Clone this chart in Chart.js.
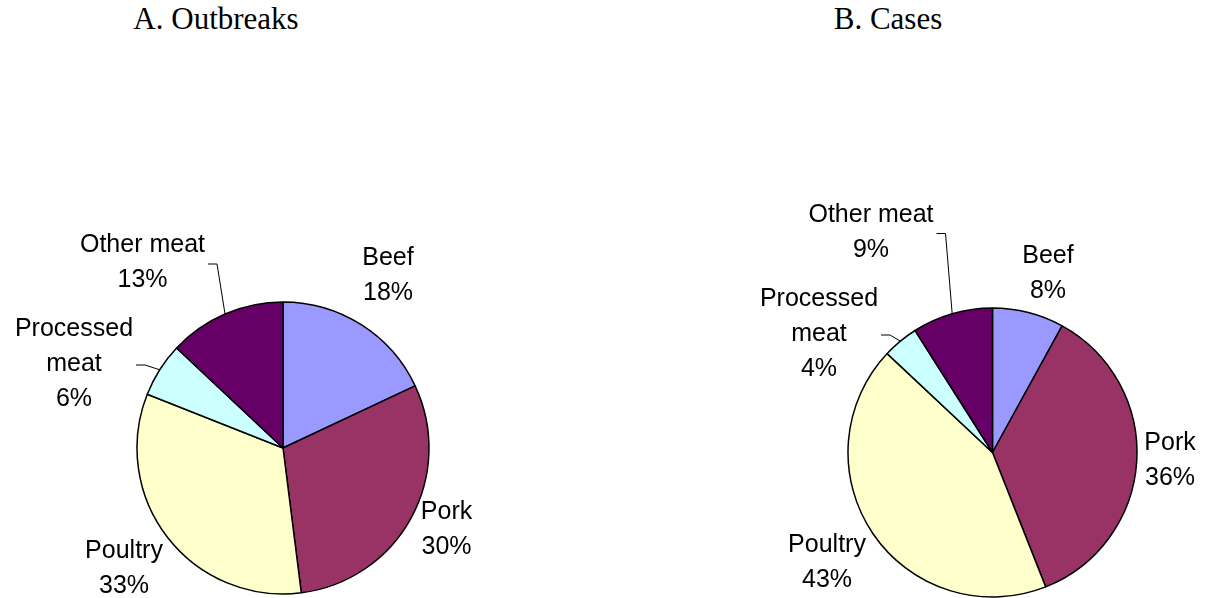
<!DOCTYPE html>
<html>
<head>
<meta charset="utf-8">
<script src="https://cdn.jsdelivr.net/npm/chart.js@4.4.0/dist/chart.umd.min.js"></script>
<style>
  body { margin:0; background:#fff; width:1205px; height:598px; position:relative; overflow:hidden; }
  canvas { position:absolute; top:0; }
  .ttl { position:absolute; top:3px; font-family:"Liberation Serif","Times New Roman",serif; font-size:31px; line-height:31px; color:#000; white-space:nowrap; transform:translateX(-50%); }
</style>
</head>
<body>
<div class="ttl" style="left:216px">A. Outbreaks</div>
<div class="ttl" style="left:888px">B. Cases</div>
<canvas id="chartA" width="600" height="598" style="left:0"></canvas>
<canvas id="chartB" width="605" height="598" style="left:600px"></canvas>
<script>
// categories and percentages
const categories = ['Beef', 'Pork', 'Poultry', 'Processed meat', 'Other meat']
const outbreaks = [18, 30, 33, 6, 13]
const cases = [8, 36, 43, 4, 9]
const labelLines = [['Beef'], ['Pork'], ['Poultry'], ['Processed', 'meat'], ['Other meat']]
const sliceColors = ['#9999FF', '#993366', '#FFFFCC', '#CCFFFF', '#660066']

// label block centre, as offset from pie centre; leader = draw a leader line
const labelPosA = [[105, -172.5], [163.5, 82], [-159, 120.5], [-209, -84], [-140.5, -185]]
const labelPosB = [[55.5, -178.5], [177.5, 8.5], [-165.5, 110], [-173.5, -118.5], [-121.5, -220]]
const leaderA = [false, false, false, true, true]
const leaderB = [false, false, false, true, true]

const LINE_H = 35
const LABEL_FONT = '25px "Liberation Sans", Arial, sans-serif'

function labelPlugin(pos, leader) {
    return {
        id: 'pieLabels',
        afterDatasetsDraw(chart) {
            const ctx = chart.ctx
            const meta = chart.getDatasetMeta(0)
            const values = chart.data.datasets[0].data
            ctx.save()
            ctx.font = LABEL_FONT
            ctx.fillStyle = '#000'
            ctx.textAlign = 'center'
            ctx.textBaseline = 'middle'
            meta.data.forEach((arc, i) => {
                const cx = arc.x, cy = arc.y
                const lines = labelLines[i].concat([values[i] + '%'])
                const bx = cx + pos[i][0], by = cy + pos[i][1]
                const top = by - (lines.length - 1) * LINE_H / 2
                let maxW = 0
                lines.forEach((t, k) => {
                    ctx.fillText(t, bx, top + k * LINE_H)
                    maxW = Math.max(maxW, ctx.measureText(t).width)
                })
                if (leader[i]) {
                    // leader from right side of the label to the middle of the slice edge
                    const mid = (arc.startAngle + arc.endAngle) / 2
                    const ex = cx + Math.cos(mid) * arc.outerRadius
                    const ey = cy + Math.sin(mid) * arc.outerRadius
                    const sx = bx + maxW / 2 + 3, sy = by + 1
                    ctx.beginPath()
                    ctx.strokeStyle = '#000'
                    ctx.lineWidth = 1
                    ctx.moveTo(sx, sy)
                    ctx.lineTo(sx + 9, sy)
                    ctx.lineTo(ex, ey)
                    ctx.stroke()
                }
            })
            ctx.restore()
        }
    }
}

function makePie(id, values, radius, padding, pos, leader) {
    return new Chart(document.getElementById(id), {
        type: 'pie',
        data: {
            labels: categories,
            datasets: [{
                data: values,
                backgroundColor: sliceColors,
                borderColor: '#000',
                borderWidth: 1.5,
                radius: radius
            }]
        },
        options: {
            responsive: false,
            animation: false,
            devicePixelRatio: 1,
            layout: { padding: padding },
            plugins: {
                legend: { display: false },
                tooltip: { enabled: false }
            }
        },
        plugins: [labelPlugin(pos, leader)]
    })
}

// pie A: centre (283,448) r 146 ; pie B: centre (992.5,452.5) r 144.5
makePie('chartA', outbreaks, 146, { left: 137, right: 171, top: 302, bottom: 4 }, labelPosA, leaderA)
makePie('chartB', cases, 144.5, { left: 248, right: 68, top: 308, bottom: 1 }, labelPosB, leaderB)
</script>
</body>
</html>
